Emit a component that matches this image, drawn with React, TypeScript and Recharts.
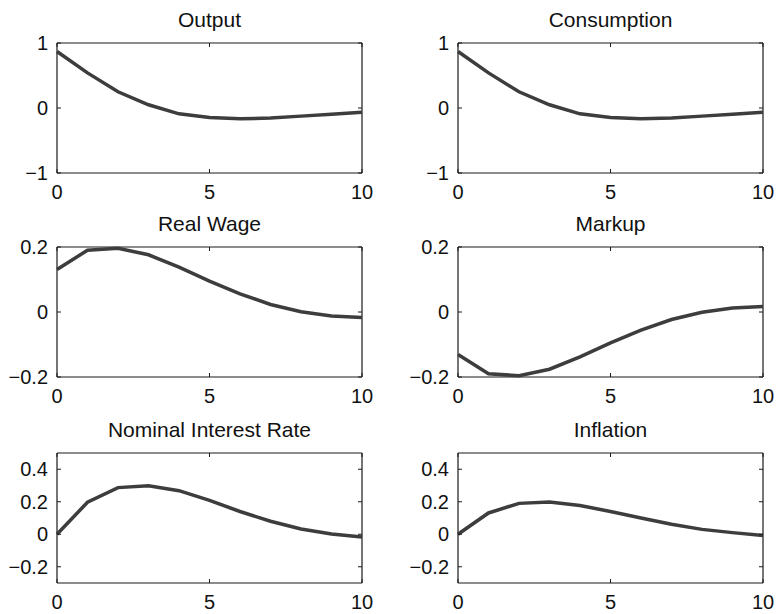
import { Line, LineChart, ReferenceLine, XAxis, YAxis } from "recharts";

const horizon = [0, 1, 2, 3, 4, 5, 6, 7, 8, 9, 10];

const output = [0.87, 0.54, 0.25, 0.05, -0.09, -0.145, -0.165, -0.155, -0.125, -0.095, -0.065];
const consumption = [0.87, 0.54, 0.25, 0.05, -0.09, -0.145, -0.165, -0.155, -0.125, -0.095, -0.065];
const realWage = [0.131, 0.19, 0.196, 0.176, 0.138, 0.095, 0.056, 0.023, 0.001, -0.012, -0.017];
const markup = [-0.131, -0.19, -0.196, -0.176, -0.138, -0.095, -0.056, -0.023, -0.001, 0.012, 0.017];
const nominalRate = [0.0, 0.197, 0.287, 0.298, 0.268, 0.208, 0.14, 0.08, 0.032, 0.002, -0.017];
const inflation = [0.0, 0.131, 0.19, 0.198, 0.177, 0.14, 0.1, 0.062, 0.03, 0.01, -0.008];

const xTicks = [0, 5, 10];
const unitTicks = [-1, 0, 1];
const narrowTicks = [-0.2, 0, 0.2];
const rateTicks = [-0.2, 0, 0.2, 0.4];

const FONT = "'Liberation Sans', Arial, Helvetica, sans-serif";
const LINE = "#3d3d3d";
const BOX = "#1a1a1a";
const TEXT = "#111";

// plot-area geometry (page pixels)
const PLOT_W = 305;
const PLOT_H = 130;
const Y_AXIS_W = 57;
const TOP_PAD = 14;
const X_AXIS_H = 36;
const RIGHT_PAD = 16;
const TICK_LEN = 4;
const X_GAP = 12;
const Y_GAP = 9;
const colLeft = [57, 458];
const rowTop = [43, 247, 453];

const fmt = (v: number) => String(v).replace("-", "\u2212");

// bottom tick: label below, inward marks on bottom and top edges
function XTick(props: any) {
  const { x, y, payload } = props;
  const axisY = y - X_GAP;
  const topY = axisY - PLOT_H;
  return (
    <g>
      <line x1={x} x2={x} y1={axisY} y2={axisY - TICK_LEN} stroke={BOX} />
      <line x1={x} x2={x} y1={topY} y2={topY + TICK_LEN} stroke={BOX} />
      <text x={x} y={y} dy="0.71em" textAnchor="middle" fontSize={20} fontFamily={FONT} fill={TEXT}>
        {fmt(payload.value)}
      </text>
    </g>
  );
}

// left tick: label to the left, inward marks on left and right edges
function YTick(props: any) {
  const { x, y, payload } = props;
  const axisX = x + Y_GAP;
  const rightX = axisX + PLOT_W;
  return (
    <g>
      <line x1={axisX} x2={axisX + TICK_LEN} y1={y} y2={y} stroke={BOX} />
      <line x1={rightX} x2={rightX - TICK_LEN} y1={y} y2={y} stroke={BOX} />
      <text x={x} y={y} dy="0.355em" textAnchor="end" fontSize={20} fontFamily={FONT} fill={TEXT}>
        {fmt(payload.value)}
      </text>
    </g>
  );
}

type Panel = {
  title: string;
  values: number[];
  domain: [number, number];
  ticks: number[];
  col: number;
  row: number;
};

const panels: Panel[] = [
  { title: "Output", values: output, domain: [-1, 1], ticks: unitTicks, col: 0, row: 0 },
  { title: "Consumption", values: consumption, domain: [-1, 1], ticks: unitTicks, col: 1, row: 0 },
  { title: "Real Wage", values: realWage, domain: [-0.2, 0.2], ticks: narrowTicks, col: 0, row: 1 },
  { title: "Markup", values: markup, domain: [-0.2, 0.2], ticks: narrowTicks, col: 1, row: 1 },
  { title: "Nominal Interest Rate", values: nominalRate, domain: [-0.3, 0.5], ticks: rateTicks, col: 0, row: 2 },
  { title: "Inflation", values: inflation, domain: [-0.3, 0.5], ticks: rateTicks, col: 1, row: 2 },
];

function Subplot({ p }: { p: Panel }) {
  const data = horizon.map((t, i) => ({ t, v: p.values[i] }));
  const left = colLeft[p.col] - Y_AXIS_W;
  const top = rowTop[p.row] - TOP_PAD;
  const frame = { stroke: BOX, strokeWidth: 1.2 };
  return (
    <>
      <div
        style={{
          position: "absolute",
          left: colLeft[p.col],
          width: PLOT_W,
          top: rowTop[p.row] - 34,
          lineHeight: "21px",
          fontSize: 21,
          fontFamily: FONT,
          color: TEXT,
          textAlign: "center",
        }}
      >
        {p.title}
      </div>
      <div style={{ position: "absolute", left, top }}>
        <LineChart
          width={Y_AXIS_W + PLOT_W + RIGHT_PAD}
          height={TOP_PAD + PLOT_H + X_AXIS_H}
          data={data}
          margin={{ top: TOP_PAD, right: RIGHT_PAD, bottom: 0, left: 0 }}
        >
          <XAxis
            dataKey="t"
            type="number"
            domain={[0, 10]}
            ticks={xTicks}
            height={X_AXIS_H}
            tickSize={0}
            tickMargin={X_GAP}
            tickLine={false}
            axisLine={false}
            tick={<XTick />}
          />
          <YAxis
            type="number"
            domain={p.domain}
            ticks={p.ticks}
            width={Y_AXIS_W}
            tickSize={0}
            tickMargin={Y_GAP}
            tickLine={false}
            axisLine={false}
            tick={<YTick />}
          />
          <ReferenceLine x={0} {...frame} />
          <ReferenceLine x={10} {...frame} />
          <ReferenceLine y={p.domain[0]} {...frame} />
          <ReferenceLine y={p.domain[1]} {...frame} />
          <Line
            type="linear"
            dataKey="v"
            stroke={LINE}
            strokeWidth={3.5}
            dot={false}
            isAnimationActive={false}
          />
        </LineChart>
      </div>
    </>
  );
}

export default function App() {
  return (
    <div style={{ position: "absolute", left: 0, top: 0, width: 778, height: 614, background: "#fff" }}>
      {panels.map((p) => (
        <Subplot key={p.title} p={p} />
      ))}
    </div>
  );
}
